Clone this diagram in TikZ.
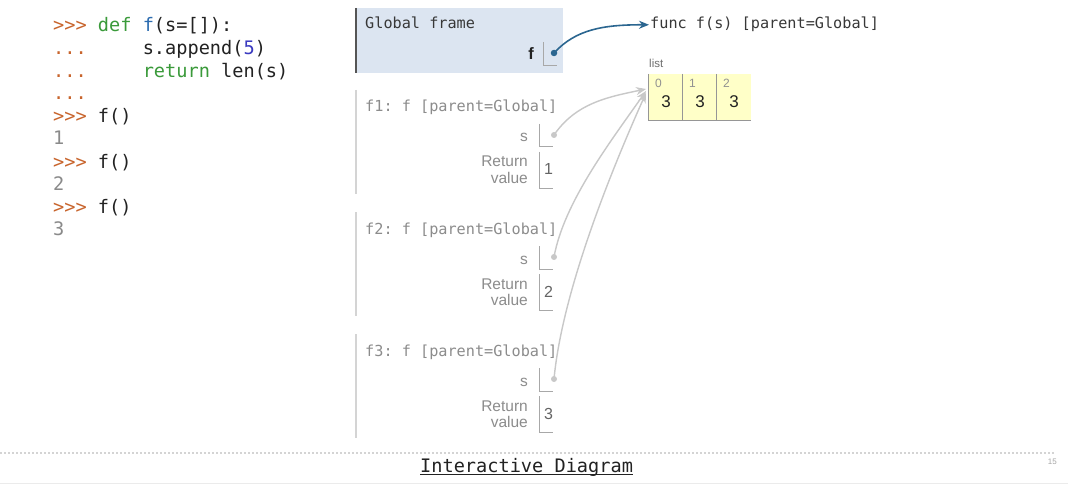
\documentclass[tikz,border=0pt]{standalone}
\usepackage{fontspec}
\setmainfont{Liberation Sans}
\newfontfamily\codefont{DejaVu Sans Mono}
\newfontfamily\labfont{Liberation Sans}
\usetikzlibrary{arrows.meta}
\frenchspacing
\definecolor{prompt}{HTML}{C8642C}
\definecolor{kw}{HTML}{3A9A3A}
\definecolor{fn}{HTML}{2C6CB0}
\definecolor{num}{HTML}{3A3AC0}
\definecolor{outg}{HTML}{8A8A8A}
\definecolor{ink}{HTML}{222222}
\definecolor{gframe}{HTML}{DCE5F1}
\definecolor{gborder}{HTML}{555555}
\definecolor{fadetext}{HTML}{8C8C8C}
\definecolor{fadeline}{HTML}{D4D4D4}
\definecolor{ptr}{HTML}{2B6690}
\definecolor{listfill}{HTML}{FFFFC8}
\definecolor{listline}{HTML}{969696}
\definecolor{arrowgray}{HTML}{C8C8C8}
\definecolor{cellline}{HTML}{A8A8A8}
\tikzset{
  code/.style={font=\codefont\fontsize{18.6}{20}\selectfont, anchor=base west, inner sep=0pt, text=ink},
  ftitle/.style={font=\codefont\fontsize{15.2}{17}\selectfont, anchor=base west, inner sep=0pt},
  lab/.style={font=\labfont\fontsize{15.5}{17}\selectfont, anchor=base east, inner sep=0pt, text=fadetext},
  val/.style={font=\labfont\fontsize{16}{18}\selectfont, anchor=base west, inner sep=0pt, text=ink!70},
  cellbox/.style={minimum width=34pt, minimum height=46pt, inner sep=0pt, fill=listfill},
  idx/.style={font=\labfont\fontsize{12}{13}\selectfont, anchor=base west, inner sep=0pt, text=ink!50},
  lval/.style={font=\labfont\fontsize{17}{19}\selectfont, anchor=base, inner sep=0pt, text=ink},
  pdot/.style={circle, inner sep=0pt, minimum size=6.5pt, fill=ptr},
  gdot/.style={circle, inner sep=0pt, minimum size=6pt, fill=arrowgray},
  cline/.style={draw=cellline, line width=1pt},
  garrow/.style={draw=arrowgray, line width=1.4pt, -{Stealth[length=10pt,width=8pt]}},
}
\begin{document}
\begin{tikzpicture}[x=1pt,y=-1pt]
\useasboundingbox (0,0) rectangle (1068,484);
\fill[white] (0,0) rectangle (1068,484);

% code
\node[code] (l1) at (53,32) {\textcolor{prompt}{>{}>{}>}~\textcolor{kw}{def}~\textcolor{fn}{f}(s=[]):};
\node[code] (l2) at (53,55) {\textcolor{prompt}{...}~~~~~s.append(\textcolor{num}{5})};
\node[code] (l3) at (53,78) {\textcolor{prompt}{...}~~~~~\textcolor{kw}{return}~len(s)};
\node[code] (l4) at (53,100) {\textcolor{prompt}{...}};
\node[code] (l5) at (53,123) {\textcolor{prompt}{>{}>{}>}~f()};
\node[code,text=outg] (l6) at (53,145) {1};
\node[code] (l7) at (53,168) {\textcolor{prompt}{>{}>{}>}~f()};
\node[code,text=outg] (l8) at (53,190) {2};
\node[code] (l9) at (53,213) {\textcolor{prompt}{>{}>{}>}~f()};
\node[code,text=outg] (l10) at (53,235) {3};

% global frame
\fill[gframe] (355,8) rectangle (563,73);
\draw[gborder, line width=2pt] (356,8) -- (356,73);
\node[ftitle, text=ink!90] (gtitle) at (365,29) {Global frame};
\node[lab, text=ink, font=\labfont\bfseries\fontsize{16.5}{18}\selectfont] (gf) at (534,60) {f};
\draw[cline] (543,42) -- (543,66) -- (557,66);
\node[pdot] (gd) at (554,53) {};
\node[ftitle, text=ink!90] (func) at (650,29) {func f(s) [parent=Global]};
\draw[ptr, line width=1.6pt, -{Stealth[length=10pt,width=8pt]}] (gd.center) .. controls +(22,-24) and +(-45,0) .. ([xshift=-1pt]func.west);

% list
\node[font=\labfont\fontsize{11.5}{12}\selectfont, anchor=base west, inner sep=0pt, text=ink!65] (listlab) at (649,68) {list};
\node[cellbox] (c0) at (666,97) {};
\node[cellbox] (c1) at (700,97) {};
\node[cellbox] (c2) at (734,97) {};
\foreach \c in {c0,c1,c2} {
  \draw[listline, line width=1pt] (\c.north west) -- (\c.south west) -- (\c.south east);
}
\node[idx] (i0) at (655,88) {0};
\node[idx] (i1) at (689,88) {1};
\node[idx] (i2) at (723,88) {2};
\node[lval] (v0) at (666,108) {3};
\node[lval] (v1) at (700,108) {3};
\node[lval] (v2) at (734,108) {3};
\coordinate (t1) at (646,89);
\coordinate (t2) at (646,91);
\coordinate (t3) at (646,93);

% call frames
\foreach \k/\tb/\v in {1/112/1, 2/234/2, 3/356/3} {
  \draw[fadeline, line width=1.5pt] (356,\tb-22) -- (356,\tb+82);
  \node[ftitle, text=fadetext] (ft\k) at (365,\tb) {f\k: f [parent=Global]};
  \node[lab] (s\k) at (528,\tb+30) {s};
  \draw[cline] (539.5,\tb+12) -- (539.5,\tb+35) -- (553,\tb+35);
  \node[gdot] (d\k) at (554,\tb+23) {};
  \node[lab] (r\k) at (528,\tb+55) {Return};
  \node[lab] (w\k) at (528,\tb+71) {value};
  \draw[cline] (539.5,\tb+40) -- (539.5,\tb+76) -- (553,\tb+76);
  \node[val] (rv\k) at (544,\tb+63) {\v};
}
\draw[garrow] (d1.center) .. controls +(22,-32) and +(-38,8) .. (t1);
\draw[garrow] (d2.center) .. controls +(10,-55) and +(-35,50) .. (t2);
\draw[garrow] (d3.center) .. controls +(8,-85) and +(-38,85) .. (t3);

% footer
\draw[fadeline, line width=1.2pt, dash pattern=on 2pt off 2pt] (0,453) -- (1055,453);
\node[font=\codefont\fontsize{18.6}{20}\selectfont, anchor=base west, inner sep=0pt, text=ink] (idg) at (420,472) {Interactive Diagram};
\draw[ink, line width=1pt] ([yshift=-2.5pt]idg.base west) -- ([yshift=-2.5pt]idg.base east);
\node[font=\labfont\fontsize{8}{9}\selectfont, anchor=base east, inner sep=0pt, text=black!35] (pg) at (1057,464) {15};
\draw[black!8, line width=1pt] (0,483) -- (1068,483);
\end{tikzpicture}
\end{document}
